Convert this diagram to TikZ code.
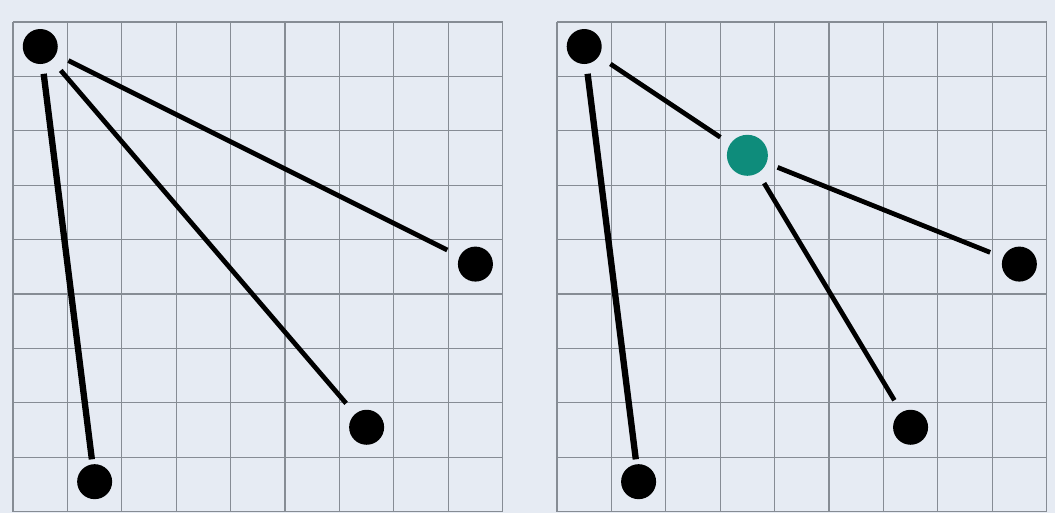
\documentclass[tikz,border=0pt]{standalone}
\usetikzlibrary{positioning}
\definecolor{paper}{HTML}{E6EBF3}
\definecolor{gridgray}{HTML}{868C94}
\definecolor{hub}{HTML}{0E8C7B}

\begin{document}
\begin{tikzpicture}
		[x=1.088cm, y=-1.088cm,
		dot/.style={circle, fill=black, minimum size=0.7cm, inner sep=0pt, outer sep=0.28cm},
		hubdot/.style={dot, fill=hub, minimum size=0.82cm, outer sep=0.24cm},
		edge/.style={line width=2.7pt},
		heavy/.style={line width=3.6pt, shorten <=-0.08cm, shorten >=-0.18cm},
		boardlines/.style={gridgray, line width=0.7pt}]
		\fill[paper] (-0.24,-0.405) rectangle (19.155,9.025);
		\useasboundingbox (-0.24,-0.405) rectangle (19.155,9.025);
		\foreach \k in {0,...,9} {
			\draw[boardlines] (\k,0) -- (\k,9);
			\draw[boardlines] (0,\k) -- (9,\k);
			\draw[boardlines] (10+\k,0) -- (10+\k,9);
			\draw[boardlines] (10,\k) -- (19,\k);
		}

		% left: every point goes straight to the corner
		\node[dot] (L1) at (0.5,0.45) {};
		\node[dot] (L2) at (1.5,8.45) {};
		\node[dot] (L3) at (6.5,7.45) {};
		\node[dot] (L4) at (8.5,4.45) {};
		\draw[heavy] (L1) -- (L2);
		\draw[edge] (L1) -- (L3);
		\draw[edge] (L1) -- (L4);

		% right: two of them share a middle point
		\node[dot] (R1) at (10.5,0.45) {};
		\node[dot] (R2) at (11.5,8.45) {};
		\node[dot] (R3) at (16.5,7.45) {};
		\node[dot] (R4) at (18.5,4.45) {};
		\node[hubdot] (H) at (13.5,2.45) {};
		\draw[heavy] (R1) -- (R2);
		\draw[edge] (R1) -- (H);
		\draw[edge] (H) -- (R3);
		\draw[edge] (H) -- (R4);
	\end{tikzpicture}
\end{document}
